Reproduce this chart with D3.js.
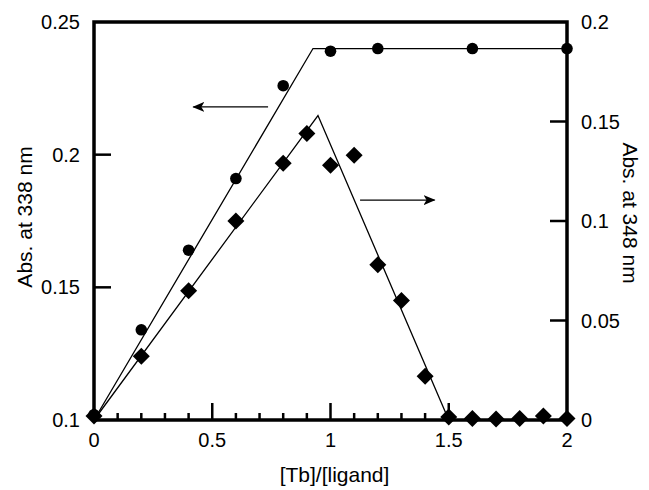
<!DOCTYPE html>
<html>
<head>
<meta charset="utf-8">
<script src="https://cdn.jsdelivr.net/npm/d3@7"></script>
<style>
  body { margin: 0; background: #fff; }
  text { font-family: "Liberation Sans", Arial, Helvetica, sans-serif; fill: #000; }
</style>
</head>
<body>
<div id="chart"></div>
<script>
// data
var ratio = [0, 0.2, 0.4, 0.6, 0.8, 0.9, 1.0, 1.1, 1.2, 1.3, 1.4, 1.5, 1.6, 1.7, 1.8, 1.9, 2.0];

// circles, left axis (Abs. at 338 nm)
var circ_x = [0, 0.2, 0.4, 0.6, 0.8, 1.0, 1.2, 1.6, 2.0];
var circ_y = [0.102, 0.134, 0.164, 0.191, 0.226, 0.239, 0.240, 0.240, 0.240];

// diamonds, right axis (Abs. at 348 nm)
var diam_y = [0.002, 0.032, 0.065, 0.100, 0.129, 0.144, 0.128, 0.133, 0.078, 0.060, 0.022, 0.0015, 0.0008, 0.0005, 0.0007, 0.002, 0.0008];

// fitted lines
var fit338_x = [0, 0.926, 2.0];
var fit338_y = [0.1, 0.240, 0.240];
var fit348_x = [0, 0.947, 1.5];
var fit348_y = [0, 0.153, 0];

var xTicks = [0, 0.5, 1, 1.5, 2];
var leftTicks = [0.1, 0.15, 0.2, 0.25];
var rightTicks = [0, 0.05, 0.1, 0.15, 0.2];

//Define Margin
var margin = {left: 94, right: 82, top: 22, bottom: 70},
    width = 649 - margin.left - margin.right,
    height = 490 - margin.top - margin.bottom;

var svg = d3.select("#chart")
    .append("svg")
    .attr("width", 649)
    .attr("height", 490)
    .append("g")
    .attr("transform", "translate(" + margin.left + "," + margin.top + ")");

var x = d3.scaleLinear().domain([0, 2]).range([0, width]),
    yL = d3.scaleLinear().domain([0.1, 0.25]).range([height, 0]),
    yR = d3.scaleLinear().domain([0, 0.2]).range([height, 0]);

var fontSize = "20px";

// arrowhead
svg.append("defs").append("marker")
    .attr("id", "arrow")
    .attr("viewBox", "0 0 12 10")
    .attr("refX", 11).attr("refY", 5)
    .attr("markerWidth", 12).attr("markerHeight", 10)
    .attr("markerUnits", "userSpaceOnUse")
    .attr("orient", "auto")
    .append("path")
    .attr("d", "M0,0 L12,5 L0,10 L3,5 Z")
    .attr("fill", "#000");

// fitted lines
var line338 = d3.line()
    .x(function (d, i) { return x(fit338_x[i]); })
    .y(function (d) { return yL(d); });
svg.append("path")
    .datum(fit338_y)
    .attr("d", line338)
    .attr("fill", "none")
    .attr("stroke", "#000")
    .attr("stroke-width", 1.3);

var line348 = d3.line()
    .x(function (d, i) { return x(fit348_x[i]); })
    .y(function (d) { return yR(d); });
svg.append("path")
    .datum(fit348_y)
    .attr("d", line348)
    .attr("fill", "none")
    .attr("stroke", "#000")
    .attr("stroke-width", 1.3);

// annotation arrows (data coords)
var arrows = [
    {x1: 0.736, x2: 0.42, y: yL(0.218)},
    {x1: 1.125, x2: 1.44, y: yR(0.1105)}
];
svg.selectAll(".arrow")
    .data(arrows)
    .enter().append("line")
    .attr("class", "arrow")
    .attr("x1", function (d) { return x(d.x1); })
    .attr("x2", function (d) { return x(d.x2); })
    .attr("y1", function (d) { return d.y; })
    .attr("y2", function (d) { return d.y; })
    .attr("stroke", "#000")
    .attr("stroke-width", 1.2)
    .attr("marker-end", "url(#arrow)");

// frame
var frame = svg.append("g").attr("class", "frame");
frame.append("rect")
    .attr("width", width)
    .attr("height", height)
    .attr("fill", "none")
    .attr("stroke", "#000")
    .attr("stroke-width", 3.5);

// x ticks: minor every 0.1, major every 0.5
var minorX = d3.range(1, 20).map(function (i) { return i / 10; });
frame.selectAll(".xtick")
    .data(minorX)
    .enter().append("line")
    .attr("class", "xtick")
    .attr("x1", function (d) { return x(d); })
    .attr("x2", function (d) { return x(d); })
    .attr("y1", height)
    .attr("y2", function (d, i) { return (i + 1) % 5 === 0 ? height - 17 : height - 7; })
    .attr("stroke", "#000")
    .attr("stroke-width", 2.5);

frame.selectAll(".ltick")
    .data(leftTicks.slice(1, -1))
    .enter().append("line")
    .attr("x1", 0).attr("x2", 17)
    .attr("y1", function (d) { return yL(d); })
    .attr("y2", function (d) { return yL(d); })
    .attr("stroke", "#000")
    .attr("stroke-width", 2.5);

frame.selectAll(".rtick")
    .data(rightTicks.slice(1, -1))
    .enter().append("line")
    .attr("x1", width).attr("x2", width - 17)
    .attr("y1", function (d) { return yR(d); })
    .attr("y2", function (d) { return yR(d); })
    .attr("stroke", "#000")
    .attr("stroke-width", 2.5);

// tick labels
svg.selectAll(".xlab")
    .data(xTicks)
    .enter().append("text")
    .attr("x", function (d) { return x(d); })
    .attr("y", height + 27)
    .attr("text-anchor", "middle")
    .style("font-size", fontSize)
    .text(function (d) { return d; });

svg.selectAll(".llab")
    .data(leftTicks)
    .enter().append("text")
    .attr("x", -14)
    .attr("y", function (d) { return yL(d); })
    .attr("dy", "0.35em")
    .attr("text-anchor", "end")
    .style("font-size", fontSize)
    .text(function (d) { return d; });

svg.selectAll(".rlab")
    .data(rightTicks)
    .enter().append("text")
    .attr("x", width + 14)
    .attr("y", function (d) { return yR(d); })
    .attr("dy", "0.35em")
    .attr("text-anchor", "start")
    .style("font-size", fontSize)
    .text(function (d) { return d; });

// axis titles
svg.append("text")
    .attr("x", width / 2 + 4)
    .attr("y", height + 62)
    .attr("text-anchor", "middle")
    .style("font-size", "21px")
    .text("[Tb]/[ligand]");

svg.append("text")
    .attr("transform", "rotate(-90)")
    .attr("x", -(height / 2) + 4)
    .attr("y", -62)
    .attr("text-anchor", "middle")
    .style("font-size", "21px")
    .text("Abs. at 338 nm");

svg.append("text")
    .attr("transform", "rotate(90)")
    .attr("x", height / 2 - 8)
    .attr("y", -(width + 56))
    .attr("text-anchor", "middle")
    .style("font-size", "21px")
    .text("Abs. at 348 nm");

// markers
svg.selectAll(".circ")
    .data(circ_y)
    .enter().append("circle")
    .attr("cx", function (d, i) { return x(circ_x[i]); })
    .attr("cy", function (d) { return yL(d); })
    .attr("r", 5.8)
    .attr("fill", "#000");

svg.selectAll(".diam")
    .data(diam_y)
    .enter().append("path")
    .attr("d", "M0,-8.5 L8.5,0 L0,8.5 L-8.5,0 Z")
    .attr("transform", function (d, i) {
        return "translate(" + x(ratio[i]) + "," + yR(d) + ")";
    })
    .attr("fill", "#000");
</script>
</body>
</html>
